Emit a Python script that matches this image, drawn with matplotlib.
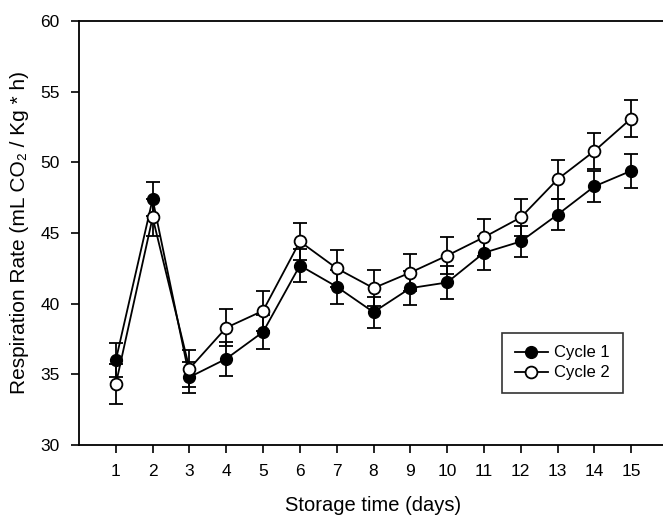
import matplotlib.pyplot as plt
from matplotlib.lines import Line2D

plt.rcParams['font.family'] = ['Liberation Sans', 'DejaVu Sans']

days = list(range(1, 16))
cycle1 = [36.0, 47.4, 34.8, 36.1, 38.0, 42.7, 41.2, 39.4, 41.1, 41.5, 43.6, 44.4, 46.3, 48.3, 49.4]
cycle1_err = [1.2, 1.2, 1.1, 1.2, 1.2, 1.2, 1.2, 1.1, 1.2, 1.2, 1.2, 1.1, 1.1, 1.1, 1.2]
cycle2 = [34.3, 46.1, 35.4, 38.3, 39.5, 44.4, 42.5, 41.1, 42.2, 43.4, 44.7, 46.1, 48.8, 50.8, 53.1]
cycle2_err = [1.4, 1.3, 1.3, 1.3, 1.4, 1.3, 1.3, 1.3, 1.3, 1.3, 1.3, 1.3, 1.4, 1.3, 1.3]

fig = plt.figure(figsize=(6.63, 5.17), dpi=100)
ax = fig.add_axes([79 / 663, 1 - 445 / 517, 589 / 663, 424 / 517])

ax.errorbar(days, cycle1, yerr=cycle1_err, color='black', lw=1.3, marker='o',
            ms=8.5, mfc='black', mec='black', capsize=5, elinewidth=1.3,
            capthick=1.3, zorder=3)
ax.errorbar(days, cycle2, yerr=cycle2_err, color='black', lw=1.3, marker='o',
            ms=8.5, mfc='white', mec='black', mew=1.3, capsize=5, elinewidth=1.3,
            capthick=1.3, zorder=4)

ax.set_xlim(0, 16)
ax.set_ylim(30, 60)
ax.set_xticks(days)
ax.set_yticks(range(30, 61, 5))
ax.tick_params(direction='out', length=6, width=1.2, labelsize=12.5, pad=8)
ax.spines['right'].set_visible(False)
for s in ['left', 'bottom', 'top']:
    ax.spines[s].set_linewidth(1.3)

ax.set_xlabel('Storage time (days)', fontsize=14.5, labelpad=12)
ax.set_ylabel('Respiration Rate (mL CO\u2082 / Kg * h)', fontsize=15, labelpad=8)

handles = [
    Line2D([], [], color='black', lw=1.3, marker='o', ms=8.5, mfc='black', mec='black'),
    Line2D([], [], color='black', lw=1.3, marker='o', ms=8.5, mfc='white', mec='black', mew=1.3),
]
leg = ax.legend(handles, ['Cycle 1', 'Cycle 2'], loc='upper left',
                bbox_to_anchor=((502 - 79) / 589, (445 - 333) / 424),
                borderaxespad=0, fontsize=12, frameon=True, fancybox=False,
                edgecolor='black', handlelength=2.0, handletextpad=0.4,
                borderpad=0.75, labelspacing=0.3)
leg.get_frame().set_linewidth(1.2)

fig.savefig('out.png', dpi=100)
